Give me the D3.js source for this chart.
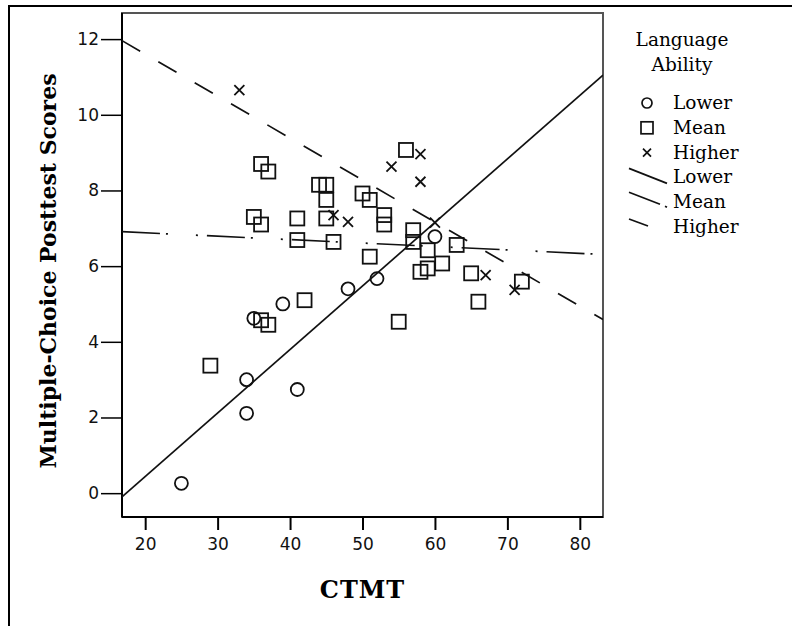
<!DOCTYPE html>
<html>
<head>
<meta charset="utf-8">
<script src="https://cdn.jsdelivr.net/npm/d3@7"></script>
<style>
  body { margin: 0; background: #fff; }
  .tick text { font-family: "DejaVu Sans", sans-serif; font-size: 17px; fill: #111; }
  .leg { font-family: "DejaVu Serif", serif; font-size: 18.5px; fill: #000; }
</style>
</head>
<body>
<div id="chart"></div>
<script>
// Data: CTMT (x) and posttest score (y) per ability group
var lowerCTMT  = [25, 34, 34, 35, 39, 41, 48, 52, 60];
var lowerScore = [0.26, 2.11, 3.0, 4.62, 5.0, 2.74, 5.4, 5.67, 6.78];

var meanCTMT  = [29, 35, 36, 36, 37, 36, 37, 41, 41, 42, 44, 45, 45, 45, 46, 50, 51, 51, 53, 53, 55, 56, 57, 57, 58, 59, 59, 61, 63, 65, 66, 72];
var meanScore = [3.37, 7.3, 7.1, 8.7, 8.5, 4.57, 4.45, 7.26, 6.69, 5.1, 8.15, 8.15, 7.75, 7.26, 6.64, 7.92, 7.75, 6.25, 7.35, 7.1, 4.53, 9.07, 6.95, 6.64, 5.85, 5.94, 6.42, 6.07, 6.56, 5.81, 5.06, 5.59];

var higherCTMT  = [33, 46, 48, 54, 58, 58, 60, 67, 71];
var higherScore = [10.65, 7.35, 7.17, 8.63, 8.96, 8.23, 7.15, 5.76, 5.37];

// fit lines, ends at the plot's left and right edges
var fitX      = [16.8, 83.2];
var fitLower  = [-0.1, 11.05];
var fitMean   = [6.91, 6.31];
var fitHigher = [11.96, 4.59];

var xTicks = [20, 30, 40, 50, 60, 70, 80];
var yTicks = [0, 2, 4, 6, 8, 10, 12];
var legendLabels = ["Lower", "Mean", "Higher"];

var width = 792, height = 626;
var plot = {left: 122, top: 13, right: 603, bottom: 517};

var x = d3.scaleLinear().domain([16.8, 83.2]).range([plot.left, plot.right]);
var y = d3.scaleLinear().domain([-0.63, 12.69]).range([plot.bottom, plot.top]);

var svg = d3.select("#chart").append("svg")
    .attr("width", width)
    .attr("height", height)
    .style("display", "block");

svg.append("rect").attr("width", width).attr("height", height).attr("fill", "#fff");

// outer frame (left + top only)
svg.append("path")
    .attr("d", "M9," + height + "V6H" + width)
    .attr("fill", "none")
    .attr("stroke", "#000")
    .attr("stroke-width", 2);

svg.append("clipPath").attr("id", "clip")
  .append("rect")
    .attr("x", plot.left).attr("y", plot.top)
    .attr("width", plot.right - plot.left)
    .attr("height", plot.bottom - plot.top);

// plot frame
svg.append("rect")
    .attr("x", plot.left).attr("y", plot.top)
    .attr("width", plot.right - plot.left)
    .attr("height", plot.bottom - plot.top)
    .attr("fill", "none")
    .attr("stroke", "#555")
    .attr("stroke-width", 2);

// axes
var xAxis = svg.append("g")
    .attr("transform", "translate(0," + plot.bottom + ")")
    .call(d3.axisBottom(x).tickValues(xTicks).tickSize(13).tickPadding(8));
xAxis.select(".domain").attr("stroke-width", 2).attr("d", "M" + plot.left + ",0H" + plot.right);
xAxis.selectAll(".tick line").attr("stroke-width", 2);

var yAxis = svg.append("g")
    .attr("transform", "translate(" + plot.left + ",0)")
    .call(d3.axisLeft(y).tickValues(yTicks).tickSize(21).tickPadding(2));
yAxis.select(".domain").attr("stroke-width", 2).attr("d", "M0," + plot.top + "V" + plot.bottom);
yAxis.selectAll(".tick line").attr("stroke-width", 1.5);

// axis titles
svg.append("text")
    .attr("x", (plot.left + plot.right) / 2)
    .attr("y", 598)
    .attr("text-anchor", "middle")
    .style("font-family", "DejaVu Serif, serif")
    .style("font-weight", "bold")
    .style("font-size", "24px")
    .style("letter-spacing", "1px")
    .text("CTMT");

svg.append("text")
    .attr("transform", "translate(56," + ((plot.top + plot.bottom) / 2 + 6) + ") rotate(-90)")
    .attr("text-anchor", "middle")
    .style("font-family", "DejaVu Serif, serif")
    .style("font-weight", "bold")
    .style("font-size", "22px")
    .text("Multiple-Choice Posttest Scores");

// fit lines
var fits = [
  {vals: fitLower,  dash: null},
  {vals: fitMean,   dash: "38,6,2,28,2,9"},
  {vals: fitHigher, dash: "21,21"}
];
var line = d3.line()
    .x(function(d) { return x(d[0]); })
    .y(function(d) { return y(d[1]); });

svg.append("g").attr("clip-path", "url(#clip)")
  .selectAll("path")
  .data(fits)
  .enter().append("path")
    .attr("d", function(d) { return line(fitX.map(function(v, i) { return [v, d.vals[i]]; })); })
    .attr("fill", "none")
    .attr("stroke", "#111")
    .attr("stroke-width", 1.7)
    .attr("stroke-dasharray", function(d) { return d.dash; });

// markers
var pts = svg.append("g").attr("fill", "none").attr("stroke", "#111").attr("stroke-width", 1.8);

pts.selectAll(".mean")
    .data(meanCTMT.map(function(v, i) { return [v, meanScore[i]]; }))
    .enter().append("rect")
    .attr("class", "mean")
    .attr("x", function(d) { return x(d[0]) - 7; })
    .attr("y", function(d) { return y(d[1]) - 7; })
    .attr("width", 14)
    .attr("height", 14);

pts.selectAll(".lower")
    .data(lowerCTMT.map(function(v, i) { return [v, lowerScore[i]]; }))
    .enter().append("circle")
    .attr("class", "lower")
    .attr("cx", function(d) { return x(d[0]); })
    .attr("cy", function(d) { return y(d[1]); })
    .attr("r", 6.5);

function cross(cx, cy, s) {
  return "M" + (cx - s) + "," + (cy - s) + "L" + (cx + s) + "," + (cy + s) +
         "M" + (cx - s) + "," + (cy + s) + "L" + (cx + s) + "," + (cy - s);
}

pts.selectAll(".higher")
    .data(higherCTMT.map(function(v, i) { return [v, higherScore[i]]; }))
    .enter().append("path")
    .attr("class", "higher")
    .attr("d", function(d) { return cross(x(d[0]), y(d[1]), 5); });

// legend
var leg = svg.append("g");
leg.append("text").attr("class", "leg").attr("x", 682).attr("y", 46).attr("text-anchor", "middle").text("Language");
leg.append("text").attr("class", "leg").attr("x", 682).attr("y", 71).attr("text-anchor", "middle").text("Ability");

var rowY = d3.range(6).map(function(i) { return 103 + i * 24.8; });

leg.selectAll(".lab")
    .data(legendLabels.concat(legendLabels))
    .enter().append("text")
    .attr("class", "leg")
    .attr("x", 673)
    .attr("y", function(d, i) { return rowY[i] + 6; })
    .text(function(d) { return d; });

var ls = leg.append("g").attr("fill", "none").attr("stroke", "#111").attr("stroke-width", 1.7);
ls.append("circle").attr("cx", 647).attr("cy", rowY[0]).attr("r", 5);
ls.append("rect").attr("x", 641).attr("y", rowY[1] - 6).attr("width", 12).attr("height", 12);
ls.append("path").attr("d", cross(647, rowY[2], 4));
ls.append("path").attr("d", "M629," + (rowY[3] - 9) + "L667," + (rowY[3] + 6));
ls.append("path").attr("d", "M629," + (rowY[4] - 10) + "L660," + (rowY[4] + 2) + "M665," + (rowY[4] + 4) + "L667," + (rowY[4] + 5));
ls.append("path").attr("d", "M629," + (rowY[5] - 8) + "L648," + (rowY[5] - 1));
</script>
</body>
</html>
